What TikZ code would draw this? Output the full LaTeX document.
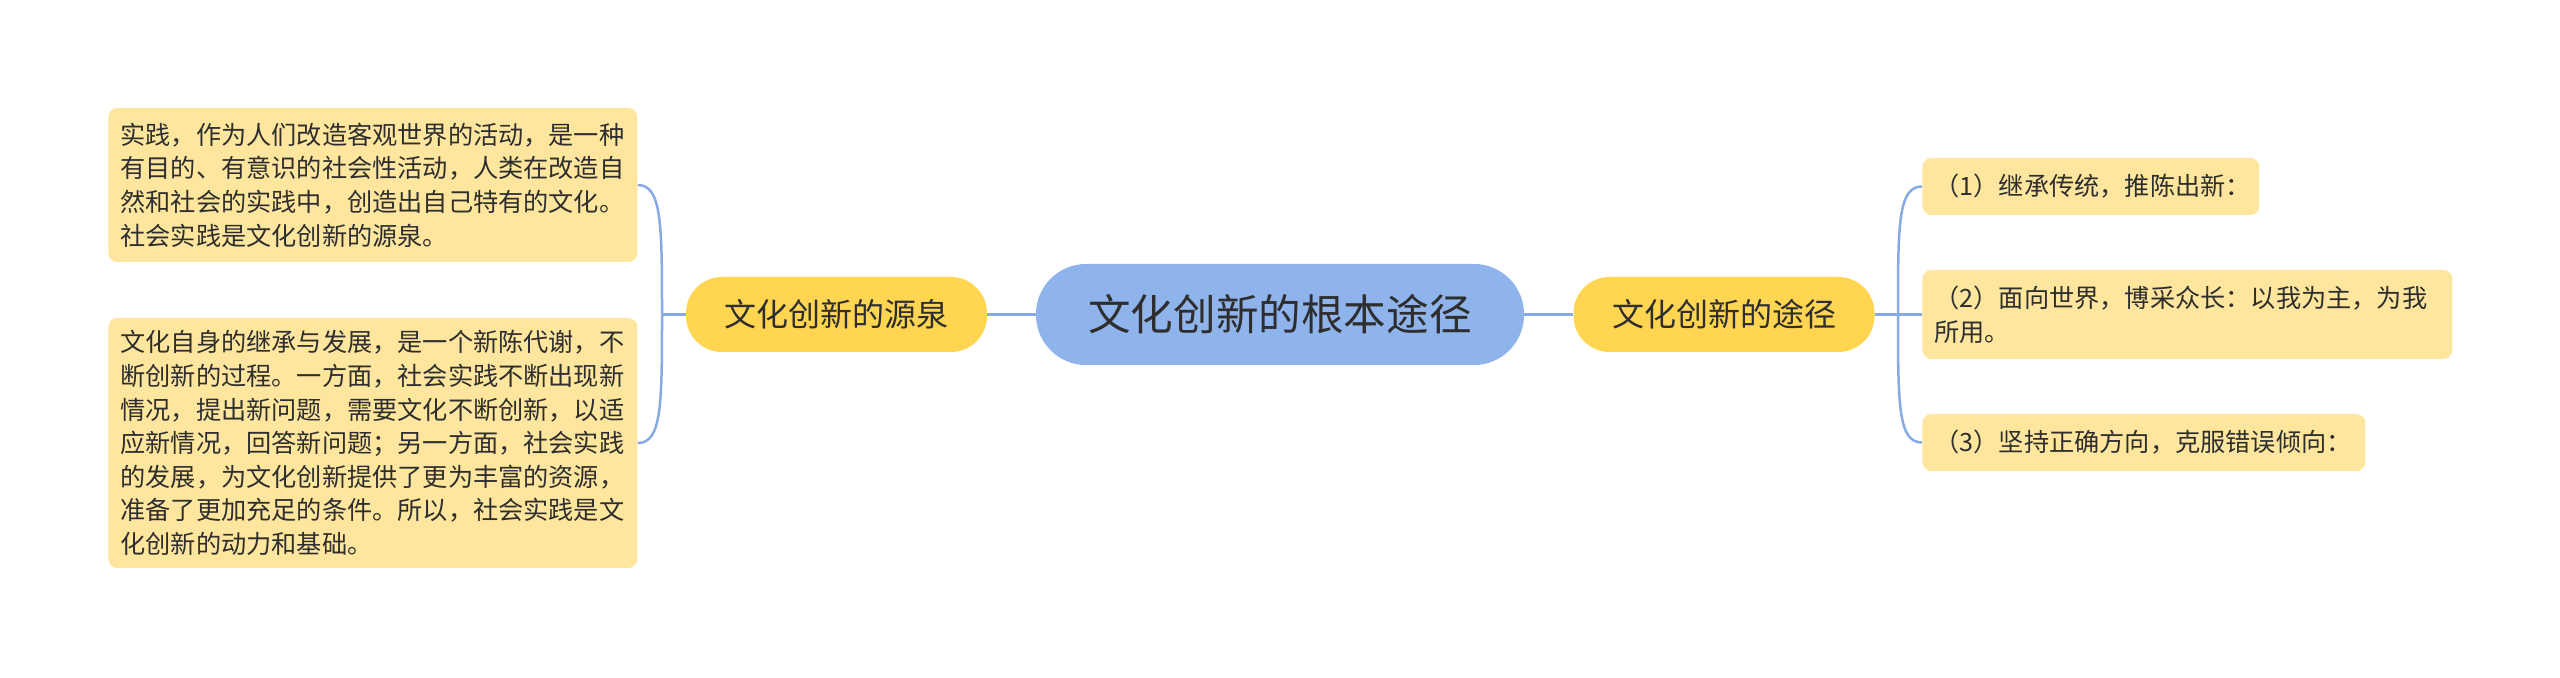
\documentclass[tikz,border=0pt]{standalone}
\usepackage{fontspec}
\setmainfont{Noto Sans CJK SC}

\definecolor{rootblue}{RGB}{143,179,235}
\definecolor{branchyellow}{RGB}{255,213,82}
\definecolor{leafyellow}{RGB}{254,230,158}
\definecolor{linkblue}{RGB}{135,170,228}

\begin{document}
\begin{tikzpicture}[
  x=0.5pt, y=-0.5pt,
  every node/.style={text=black!82},
  root/.style={fill=rootblue, rounded corners=25pt,
               minimum width=244pt, minimum height=50.5pt,
               font=\fontsize{21.3}{25}\selectfont},
  branch/.style={fill=branchyellow, rounded corners=18pt,
                 minimum width=150.5pt, minimum height=37.5pt,
                 font=\fontsize{16}{19}\selectfont},
  leaf/.style={fill=leafyellow, rounded corners=4.5pt, anchor=west,
               align=left, inner xsep=6pt, inner ysep=0pt,
               font=\fontsize{12.6}{16.8}\selectfont},
  link/.style={draw=linkblue, line width=1.25pt}
]
\useasboundingbox (0,0) rectangle (2560,678);

\node[root] (root) at (1280,314.5) {文化创新的根本途径};

% branch row
\node[branch] (source) at (836.5,314.5) {文化创新的源泉};
\node[branch] (way) at (1724,314.5) {文化创新的途径};

% left leaves
\node[leaf, text width=252.5pt, minimum height=77pt] (srcA) at (108,185) {%
  实践，作为人们改造客观世界的活动，是一种\\
  有目的、有意识的社会性活动，人类在改造自\\
  然和社会的实践中，创造出自己特有的文化。\\
  社会实践是文化创新的源泉。};
\node[leaf, text width=252.5pt, minimum height=125pt] (srcB) at (108,443) {%
  文化自身的继承与发展，是一个新陈代谢，不\\
  断创新的过程。一方面，社会实践不断出现新\\
  情况，提出新问题，需要文化不断创新，以适\\
  应新情况，回答新问题；另一方面，社会实践\\
  的发展，为文化创新提供了更为丰富的资源，\\
  准备了更加充足的条件。所以，社会实践是文\\
  化创新的动力和基础。};

% right leaves
\node[leaf, text width=156.5pt, minimum height=28.5pt] (wayA) at (1922,186.5)
  {（1）继承传统，推陈出新：};
\node[leaf, text width=253pt, minimum height=44.5pt] (wayB) at (1922,314.5)
  {（2）面向世界，博采众长：以我为主，为我\\所用。};
\node[leaf, text width=209.5pt, minimum height=28.5pt] (wayC) at (1922,442.5)
  {（3）坚持正确方向，克服错误倾向：};

% bracket joints
\coordinate (jl) at (662,314.5);
\coordinate (jr) at (1898,314.5);

% connectors
\draw[link] (source.east) -- (root.west);
\draw[link] (root.east) -- (way.west);
\draw[link] (source.west) -- (jl);
\draw[link] (way.east) -- (wayB.west);
\foreach \a/\s in {srcA/-1, srcB/1}
  \draw[link] (\a.east) .. controls +(24,0) and +(0,90*\s) .. (jl);
\foreach \a/\s in {wayA/-1, wayC/1}
  \draw[link] (\a.west) .. controls +(-24,0) and +(0,90*\s) .. (jr);
\end{tikzpicture}
\end{document}
